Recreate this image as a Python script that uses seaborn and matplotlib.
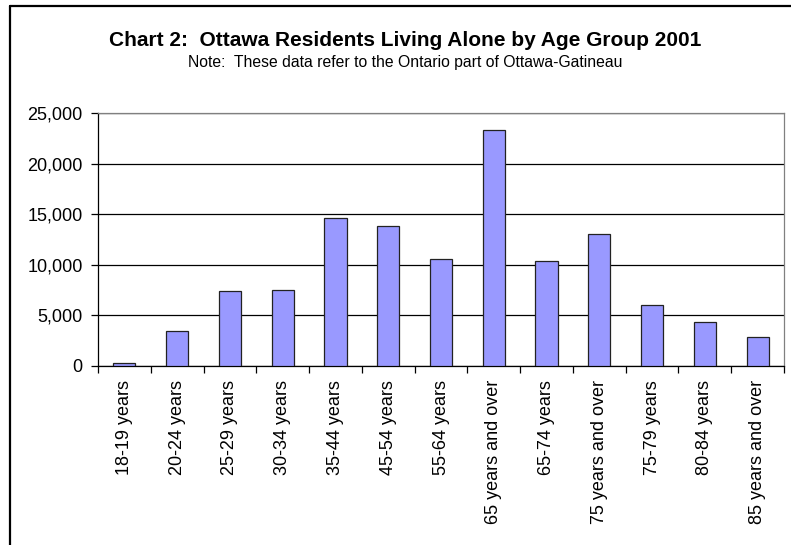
import matplotlib
matplotlib.use("Agg")
import matplotlib.pyplot as plt
import seaborn as sns
import pandas as pd
from matplotlib.lines import Line2D
from matplotlib.ticker import FuncFormatter, FixedLocator

categories = ["18-19 years", "20-24 years", "25-29 years", "30-34 years",
              "35-44 years", "45-54 years", "55-64 years", "65 years and over",
              "65-74 years", "75 years and over", "75-79 years", "80-84 years",
              "85 years and over"]
values = [250, 3430, 7420, 7550, 14600, 13790, 10560, 23350,
          10390, 13070, 5980, 4310, 2840]
yticks = [0, 5000, 10000, 15000, 20000, 25000]

title = "Chart 2:  Ottawa Residents Living Alone by Age Group 2001"
subtitle = "Note:  These data refer to the Ontario part of Ottawa-Gatineau"

sns.set_style("white")
plt.rcParams["font.family"] = ["Liberation Sans", "DejaVu Sans"]
plt.rcParams["text.color"] = "black"
plt.rcParams["xtick.color"] = "black"
plt.rcParams["ytick.color"] = "black"
plt.rcParams["axes.labelcolor"] = "black"

df = pd.DataFrame({"cat": categories, "val": values})

fig = plt.figure(figsize=(7.91, 5.45), dpi=100)
ax = fig.add_axes([98/791, 1 - 366/545, (784 - 98)/791, (366 - 113)/545])

sns.barplot(data=df, x="cat", y="val", ax=ax, color="#9999FF",
            saturation=1, width=0.42, edgecolor="#222222", linewidth=0.9,
            zorder=3)

ax.set_xlim(-0.5, len(categories) - 0.5)
ax.set_ylim(0, 25000)
ax.set_yticks(yticks)
ax.yaxis.set_major_formatter(FuncFormatter(lambda v, p: f"{int(v):,}"))
ax.grid(axis="y", color="black", linewidth=0.9, zorder=0)
ax.set_axisbelow(True)
ax.set_xlabel("")
ax.set_ylabel("")

ax.tick_params(axis="y", which="major", length=5, width=0.9, color="black",
               direction="out", pad=6, labelsize=13, left=True,
               labelcolor="black")
ax.tick_params(axis="x", which="major", length=0, pad=10, labelsize=13,
               labelrotation=90, labelcolor="black")
ax.xaxis.set_minor_locator(FixedLocator([i - 0.5 for i in range(len(categories) + 1)]))
ax.tick_params(axis="x", which="minor", length=5, width=0.9, color="black",
               direction="out", bottom=True)
for lbl in ax.get_xticklabels():
    lbl.set_va("top")
    lbl.set_ha("center")

for s in ["left", "bottom"]:
    ax.spines[s].set_color("black")
    ax.spines[s].set_linewidth(0.9)
for s in ["top", "right"]:
    ax.spines[s].set_visible(True)
    ax.spines[s].set_color("#808080")
    ax.spines[s].set_linewidth(0.9)

fig.text(405/791, 1 - 40/545, title, ha="center", va="center",
         fontsize=15, fontweight="bold", color="black")
fig.text(405/791, 1 - 62/545, subtitle, ha="center", va="center",
         fontsize=11.3, color="black")

# outer chart frame (left and top edges)
fig.add_artist(Line2D([9.5/791, 9.5/791], [0, 1 - 5.7/545], color="black",
                      linewidth=1.6, transform=fig.transFigure))
fig.add_artist(Line2D([9.5/791, 1], [1 - 5.7/545, 1 - 5.7/545], color="black",
                      linewidth=1.6, transform=fig.transFigure))

fig.savefig("out.png", dpi=100)
